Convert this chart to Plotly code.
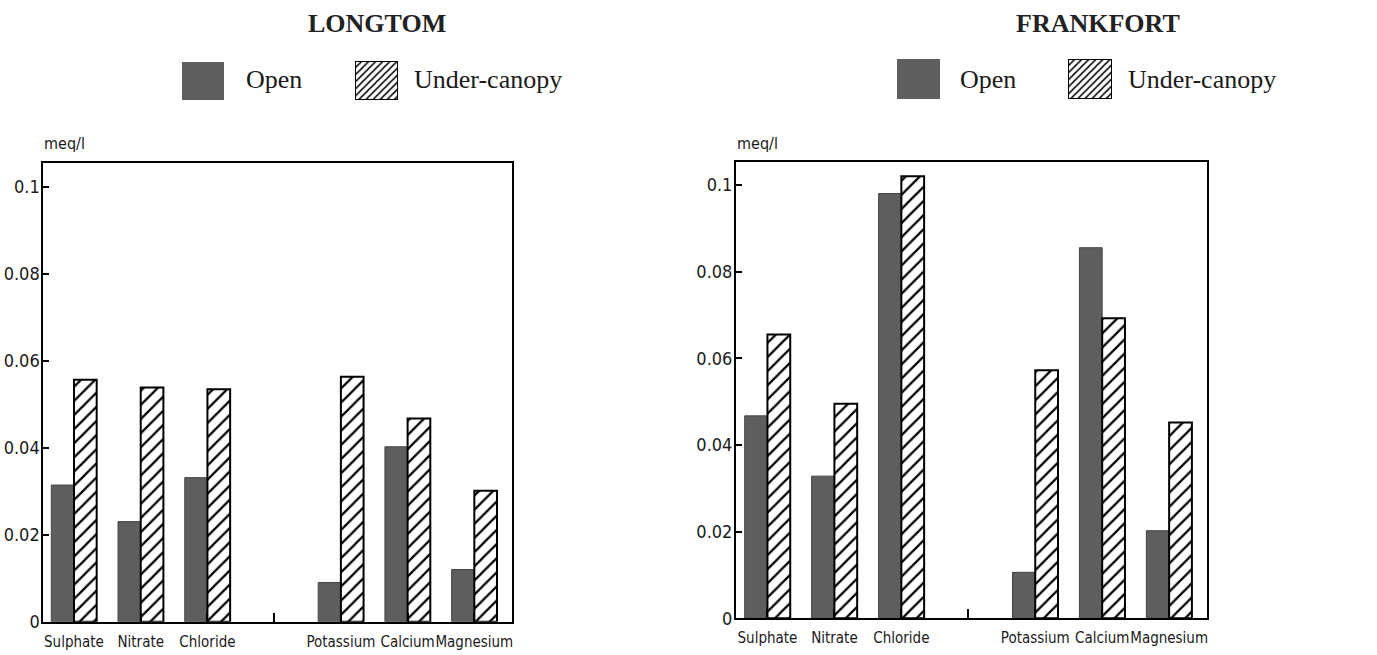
import plotly.graph_objects as go

categories = ["Sulphate", "Nitrate", "Chloride", "", "Potassium", "Calcium", "Magnesium"]
longtom_open = [0.0314, 0.0230, 0.0331, None, 0.0090, 0.0402, 0.0120]
longtom_under = [0.0556, 0.0538, 0.0534, None, 0.0563, 0.0467, 0.0301]
frankfort_open = [0.0467, 0.0328, 0.0980, None, 0.0106, 0.0855, 0.0202]
frankfort_under = [0.0655, 0.0495, 0.1020, None, 0.0572, 0.0692, 0.0452]
y_tickvals = [0, 0.02, 0.04, 0.06, 0.08, 0.1]
y_ticktext = ["0", "0.02", "0.04", "0.06", "0.08", "0.1"]
panel_titles = ["LONGTOM", "FRANKFORT"]
series_names = ["Open", "Under-canopy"]

W, H = 1377, 655
OPEN_COLOR = "#5e5e5e"
NARROW = "Liberation Sans Narrow, DejaVu Sans Condensed, Arial Narrow, sans-serif"
SERIF = "Liberation Serif, Times New Roman, serif"

def px_x(p):
    return p / W

def px_y(p):
    return 1 - p / H

xpos = list(range(len(categories)))

fig = go.Figure()

def hatched_marker(size, solidity):
    return dict(color="white",
                pattern=dict(shape="/", fgcolor="black", bgcolor="white",
                             size=size, solidity=solidity, fillmode="replace"),
                line=dict(color="black", width=2))

open_marker = dict(color=OPEN_COLOR, line=dict(color="#444444", width=1))

for i, (op, un) in enumerate([(longtom_open, longtom_under), (frankfort_open, frankfort_under)]):
    xa = "x" if i == 0 else "x2"
    ya = "y" if i == 0 else "y2"
    fig.add_trace(go.Bar(x=xpos, y=op, name=series_names[0], marker=open_marker,
                         xaxis=xa, yaxis=ya, offsetgroup="a", showlegend=False))
    fig.add_trace(go.Bar(x=xpos, y=un, name=series_names[1], marker=hatched_marker(10, 0.22),
                         xaxis=xa, yaxis=ya, offsetgroup="b", showlegend=False))

# legend swatches (one bar filling each small axis)
swatches = [
    (3, 182, 224, 62, 100, "open"),
    (4, 355, 398, 61, 100, "under"),
    (5, 897, 940, 59, 99, "open"),
    (6, 1068, 1112, 59, 99, "under"),
]
for idx, l, r, t, b, kind in swatches:
    mk = dict(color=OPEN_COLOR, line=dict(width=0)) if kind == "open" else hatched_marker(5, 0.3)
    fig.add_trace(go.Bar(x=[0], y=[1], width=[1], marker=mk, xaxis=f"x{idx}", yaxis=f"y{idx}",
                         showlegend=False, hoverinfo="skip"))
    fig.layout[f"xaxis{idx}"] = dict(domain=[px_x(l), px_x(r)], range=[-0.5, 0.5], visible=False,
                                    anchor=f"y{idx}", fixedrange=True, automargin=False)
    fig.layout[f"yaxis{idx}"] = dict(domain=[px_y(b), px_y(t)], range=[0, 1], visible=False,
                                    anchor=f"x{idx}", fixedrange=True, automargin=False)

common_x = dict(tickmode="array", tickvals=xpos, ticktext=categories, ticks="inside", ticklen=9,
                tickwidth=1.5, tickcolor="black", showline=True, linecolor="black", linewidth=2,
                mirror=True, showgrid=False, zeroline=False, tickangle=0, automargin=False,
                ticklabelstandoff=5,
                tickfont=dict(family=NARROW, size=15, color="#1a1a1a"))
common_y = dict(tickmode="array", tickvals=y_tickvals, ticktext=y_ticktext, ticks="inside", ticklen=6,
                tickwidth=1.5, tickcolor="black", showline=True, linecolor="black", linewidth=2,
                mirror=True, showgrid=False, zeroline=False, automargin=False,
                ticklabelstandoff=-2,
                tickfont=dict(family=NARROW, size=18, color="#1a1a1a"))

fig.update_layout(
    width=W, height=H,
    margin=dict(l=0, r=0, t=0, b=0, autoexpand=False),
    paper_bgcolor="white", plot_bgcolor="white",
    barmode="group", bargap=0.32, bargroupgap=0,
    showlegend=False,
    xaxis=dict(domain=[px_x(43.3), px_x(511.7)], range=[-0.46, 6.56], anchor="y", **common_x),
    yaxis=dict(domain=[px_y(621.7), px_y(163)], range=[0, 0.1054], anchor="x", **common_y),
    xaxis2=dict(domain=[px_x(736), px_x(1207.3)], range=[-0.47, 6.57], anchor="y2", **common_x),
    yaxis2=dict(domain=[px_y(618.3), px_y(162.3)], range=[0, 0.1052], anchor="x2", **common_y),
)

annotations = []
for title, cx in zip(panel_titles, [377, 1098]):
    annotations.append(dict(text=f"<b>{title}</b>", x=px_x(cx), y=px_y(24), xref="paper", yref="paper",
                            showarrow=False, xanchor="center", yanchor="middle",
                            font=dict(family=SERIF, size=26, color="#222222")))
for txt, lx in [(series_names[0], 244), (series_names[1], 412), (series_names[0], 958), (series_names[1], 1126)]:
    annotations.append(dict(text=txt, x=px_x(lx), y=px_y(80), xref="paper", yref="paper",
                            showarrow=False, xanchor="left", yanchor="middle",
                            font=dict(family=SERIF, size=26, color="#1a1a1a")))
for ux in [42, 735]:
    annotations.append(dict(text="meq/l", x=px_x(ux), y=px_y(143), xref="paper", yref="paper",
                            showarrow=False, xanchor="left", yanchor="middle",
                            font=dict(family=NARROW, size=16, color="#1a1a1a")))
fig.update_layout(annotations=annotations)

fig.write_html("out.html", config={"displayModeBar": False},
               post_script="document.body.style.margin='0px';document.body.style.overflow='hidden';")
